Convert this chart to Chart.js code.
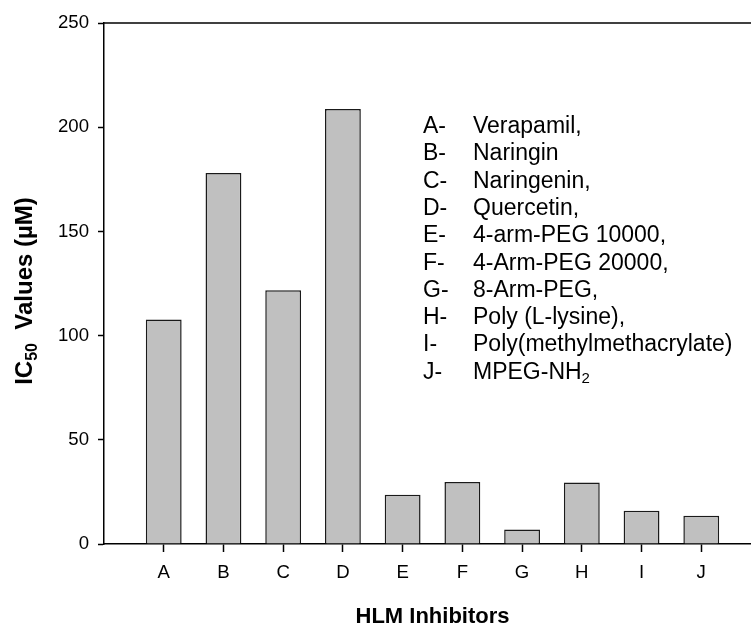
<!DOCTYPE html>
<html>
<head>
<meta charset="utf-8">
<title>IC50 values of HLM inhibitors</title>
<script src="https://cdn.jsdelivr.net/npm/chart.js"></script>
<style>
  html, body { margin: 0; padding: 0; background: #fff; overflow: hidden; }
  #wrap { width: 761px; height: 628px; }
</style>
</head>
<body>
<div id="wrap"><canvas id="ic50Chart" width="761" height="628"></canvas></div>
<script>
// data
const letters = ['A', 'B', 'C', 'D', 'E', 'F', 'G', 'H', 'I', 'J'];
const ic50 = [107.7, 178, 121.8, 208.7, 23.6, 29.8, 7, 29.5, 16, 13.5];
const names = [
  'Verapamil,', 'Naringin', 'Naringenin,', 'Quercetin,', '4-arm-PEG 10000,',
  '4-Arm-PEG 20000,', '8-Arm-PEG,', 'Poly (L-lysine),', 'Poly(methylmethacrylate)', 'MPEG-NH'
];
const yTicks = [0, 50, 100, 150, 200, 250];

const FONT = '"Liberation Sans", Arial, sans-serif';

// titles, key text and the top frame line
const decorations = {
  id: 'decorations',
  afterDraw(chart) {
    const { ctx, chartArea } = chart;
    ctx.save();
    ctx.strokeStyle = '#000';
    ctx.lineWidth = 1.5;
    ctx.beginPath();
    ctx.moveTo(chartArea.left, chartArea.top);
    ctx.lineTo(chartArea.right, chartArea.top);
    ctx.stroke();

    ctx.fillStyle = '#000';
    // x title, centred on the whole axis
    ctx.font = 'bold 22px ' + FONT;
    ctx.textAlign = 'center';
    ctx.textBaseline = 'alphabetic';
    ctx.fillText('HLM Inhibitors', (chartArea.left + chartArea.right) / 2, 623);

    // y title with subscript
    ctx.translate(32, 291);
    ctx.rotate(-Math.PI / 2);
    const big = 'bold 24px ' + FONT, small = 'bold 16px ' + FONT;
    ctx.font = big;
    const w1 = ctx.measureText('IC').width;
    const w3 = ctx.measureText('  Values (µM)').width;
    ctx.font = small;
    const w2 = ctx.measureText('50').width;
    let x = -(w1 + w2 + w3) / 2;
    ctx.textAlign = 'left';
    ctx.font = big; ctx.fillText('IC', x, 0); x += w1;
    ctx.font = small; ctx.fillText('50', x, 5); x += w2;
    ctx.font = big; ctx.fillText('  Values (µM)', x, 0);
    ctx.setTransform(1, 0, 0, 1, 0, 0);

    // key
    ctx.textAlign = 'left';
    letters.forEach((l, i) => {
      const y = 133 + i * 27.3;
      ctx.font = '23px ' + FONT;
      ctx.fillText(l + '-', 423, y);
      ctx.fillText(names[i], 473, y);
      if (l === 'J') {
        const w = ctx.measureText(names[i]).width;
        ctx.font = '15px ' + FONT;
        ctx.fillText('2', 473 + w, y + 4);
      }
    });
    ctx.restore();
  }
};

new Chart(document.getElementById('ic50Chart'), {
  type: 'bar',
  data: {
    datasets: [{
      data: ic50.map((v, i) => ({ x: i + 1, y: v })),
      backgroundColor: '#c0c0c0',
      borderColor: '#1a1a1a',
      borderWidth: 1.5,
      barPercentage: 0.6,
      categoryPercentage: 1
    }]
  },
  options: {
    responsive: false,
    animation: false,
    layout: { padding: { top: 23, right: 0, bottom: 0, left: 0 } },
    plugins: { legend: { display: false }, tooltip: { enabled: false } },
    scales: {
      x: {
        type: 'linear',
        min: 0,
        max: 11,
        offset: false,
        afterBuildTicks: (s) => { s.ticks = letters.map((l, i) => ({ value: i + 1 })); },
        afterFit: (s) => { s.height = 84; },
        ticks: {
          callback: (v) => letters[v - 1] || '',
          color: '#000',
          font: { family: FONT, size: 18.6 },
          padding: 10,
          maxRotation: 0,
          autoSkip: false
        },
        grid: { offset: false, drawOnChartArea: false, drawTicks: true, tickLength: 8, tickWidth: 1.5, tickColor: '#000' },
        border: { display: true, color: '#000', width: 1.5 }
      },
      y: {
        min: 0,
        max: 250,
        afterBuildTicks: (s) => { s.ticks = yTicks.map((v) => ({ value: v })); },
        afterFit: (s) => { s.width = 104; },
        ticks: {
          color: '#000',
          font: { family: FONT, size: 18.6 },
          padding: 9
        },
        grid: { drawOnChartArea: false, drawTicks: true, tickLength: 6, tickWidth: 1.5, tickColor: '#000' },
        border: { display: true, color: '#000', width: 1.5 }
      }
    }
  },
  plugins: [decorations]
});
</script>
</body>
</html>
